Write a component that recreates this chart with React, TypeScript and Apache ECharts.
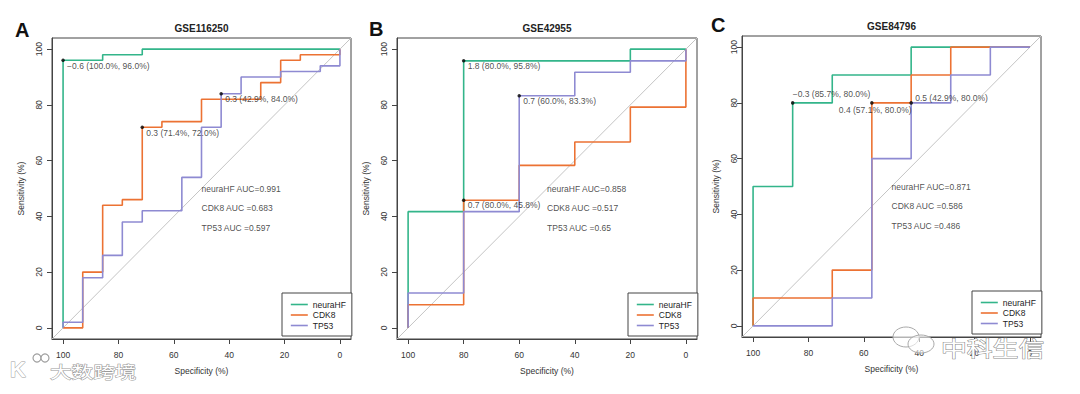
import React, { useEffect, useRef } from "react";
import * as echarts from "echarts";

const FONT = "'Liberation Sans', Arial, Helvetica, sans-serif";
const CJK = "'Noto Sans CJK SC', sans-serif";

const panelLetters = ["A", "B", "C"];
const datasetTitles = ["GSE116250", "GSE42955", "GSE84796"];
const markerNames = ["neuraHF", "CDK8", "TP53"];
const tickValues = [0, 20, 40, 60, 80, 100];
const axisMin = -4;
const axisMax = 104;

// ROC curves: vertices as [specificity %, sensitivity %]
const gse116250_neuraHF = [[100, 0], [100, 96], [85.7, 96], [85.7, 98], [71.4, 98], [71.4, 100], [0, 100]];
const gse116250_CDK8 = [[100, 0], [92.9, 0], [92.9, 20], [85.7, 20], [85.7, 44], [78.6, 44], [78.6, 46], [71.4, 46], [71.4, 72], [64.3, 72], [64.3, 74], [50, 74], [50, 82], [28.6, 82], [28.6, 88], [21.4, 88], [21.4, 96], [14.3, 96], [14.3, 98], [0, 98], [0, 100]];
const gse116250_TP53 = [[100, 0], [100, 2], [92.9, 2], [92.9, 18], [85.7, 18], [85.7, 26], [78.6, 26], [78.6, 38], [71.4, 38], [71.4, 42], [57.1, 42], [57.1, 54], [50, 54], [50, 72], [42.9, 72], [42.9, 84], [35.7, 84], [35.7, 90], [21.4, 90], [21.4, 92], [7.1, 92], [7.1, 94], [0, 94], [0, 100]];

const gse42955_neuraHF = [[100, 0], [100, 41.7], [80, 41.7], [80, 95.8], [20, 95.8], [20, 100], [0, 100]];
const gse42955_CDK8 = [[100, 0], [100, 8.3], [80, 8.3], [80, 45.8], [60, 45.8], [60, 58.3], [40, 58.3], [40, 66.7], [20, 66.7], [20, 79.2], [0, 79.2], [0, 100]];
const gse42955_TP53 = [[100, 0], [100, 12.5], [80, 12.5], [80, 41.7], [60, 41.7], [60, 83.3], [40, 83.3], [40, 91.7], [20, 91.7], [20, 95.8], [0, 95.8], [0, 100]];

const gse84796_neuraHF = [[100, 0], [100, 50], [85.7, 50], [85.7, 80], [71.4, 80], [71.4, 90], [42.9, 90], [42.9, 100], [0, 100]];
const gse84796_CDK8 = [[100, 0], [100, 10], [71.4, 10], [71.4, 20], [57.1, 20], [57.1, 80], [42.9, 80], [42.9, 90], [28.6, 90], [28.6, 100], [0, 100]];
const gse84796_TP53 = [[100, 0], [71.4, 0], [71.4, 10], [57.1, 10], [57.1, 60], [42.9, 60], [42.9, 80], [28.6, 80], [28.6, 90], [14.3, 90], [14.3, 100], [0, 100]];

// best thresholds: [specificity %, sensitivity %] and threshold value
const gse116250_best = [[100, 96], [71.4, 72], [42.9, 84]];
const gse116250_thresholds = ["\u22120.6", "0.3", "0.3"];
const gse42955_best = [[80, 95.8], [80, 45.8], [60, 83.3]];
const gse42955_thresholds = ["1.8", "0.7", "0.7"];
const gse84796_best = [[85.7, 80], [57.1, 80], [42.9, 80]];
const gse84796_thresholds = ["\u22120.3", "0.4", "0.5"];

// AUC values
const gse116250_auc = ["0.991", "0.683", "0.597"];
const gse42955_auc = ["0.858", "0.517", "0.65"];
const gse84796_auc = ["0.871", "0.586", "0.486"];
const aucPrefixes = ["neuraHF AUC=", "CDK8 AUC =", "TP53 AUC ="];
const aucTextX = 50;
const aucTextY = [50, 43, 36];

const rocByPanel = [
  [gse116250_neuraHF, gse116250_CDK8, gse116250_TP53],
  [gse42955_neuraHF, gse42955_CDK8, gse42955_TP53],
  [gse84796_neuraHF, gse84796_CDK8, gse84796_TP53],
];
const bestByPanel = [gse116250_best, gse42955_best, gse84796_best];
const thrByPanel = [gse116250_thresholds, gse42955_thresholds, gse84796_thresholds];
const aucByPanel = [gse116250_auc, gse42955_auc, gse84796_auc];

// styling / layout
const colors = ["#33B58A", "#EC7233", "#8E8AD2"];
const grids = [
  { left: 52, top: 38, width: 299, height: 301 },
  { left: 397, top: 38, width: 300, height: 301 },
  { left: 742, top: 36, width: 299, height: 301 },
];
const yLabelMargin = [9, 9, 4];
const yNameGap = [27, 27, 22];
const legendPos = [
  { left: 282, top: 293 },
  { left: 628, top: 293 },
  { left: 972, top: 291 },
];
const bestLabelOffsets = [
  [[0, 5.5], [0, 5.5], [0, 5.5]],
  [[0, 5.5], [0, 5], [0, 5]],
  [[-4, -9], [-37, 6.7], [0, -5]],
];
const titlePos = [[201.5, 28], [547, 28.3], [891.5, 26]];
const letterPos = [[15, 30], [369, 28.5], [711, 25]];

function buildOption() {
  const series: any[] = [];
  grids.forEach((_, p) => {
    series.push({
      type: "line",
      name: "diag" + p,
      xAxisIndex: p,
      yAxisIndex: p,
      data: [[axisMax, axisMin], [axisMin, axisMax]],
      symbol: "none",
      silent: true,
      lineStyle: { color: "#c4c4c4", width: 1 },
      z: 1,
    });
    rocByPanel[p].forEach((roc, i) => {
      series.push({
        type: "line",
        name: markerNames[i],
        xAxisIndex: p,
        yAxisIndex: p,
        data: roc,
        symbol: "none",
        silent: true,
        lineStyle: { color: colors[i], width: 1.6 },
        itemStyle: { color: colors[i] },
        z: 2 + i,
      });
    });
    const thr = thrByPanel[p];
    series.push({
      type: "scatter",
      name: "best" + p,
      xAxisIndex: p,
      yAxisIndex: p,
      silent: true,
      symbolSize: 3.5,
      itemStyle: { color: "#000" },
      data: bestByPanel[p].map((pt, i) => ({ value: pt, label: { offset: bestLabelOffsets[p][i] } })),
      label: {
        show: true,
        position: "right",
        distance: 2.25,
        fontSize: 8.5,
        fontFamily: FONT,
        color: "#222",
        formatter: (params: any) =>
          `${thr[params.dataIndex]} (${params.value[0].toFixed(1)}%, ${params.value[1].toFixed(1)}%)`,
      },
      z: 6,
    });
    const auc = aucByPanel[p];
    series.push({
      type: "scatter",
      name: "auc" + p,
      xAxisIndex: p,
      yAxisIndex: p,
      silent: true,
      symbolSize: 0.1,
      itemStyle: { color: "rgba(0,0,0,0)" },
      data: aucTextY.map((y) => [aucTextX, y]),
      label: {
        show: true,
        position: "right",
        distance: 0,
        fontSize: 8.5,
        fontFamily: FONT,
        color: "#222",
        formatter: (params: any) => aucPrefixes[params.dataIndex] + auc[params.dataIndex],
      },
      z: 6,
    });
  });

  const graphic: any[] = [];
  grids.forEach((_, p) => {
    graphic.push({
      type: "text",
      x: titlePos[p][0],
      y: titlePos[p][1],
      silent: true,
      style: {
        text: datasetTitles[p],
        fontSize: 10,
        fontWeight: "bold",
        fontFamily: FONT,
        fill: "#222",
        align: "center",
        verticalAlign: "middle",
      },
    });
    graphic.push({
      type: "text",
      x: letterPos[p][0],
      y: letterPos[p][1],
      silent: true,
      style: {
        text: panelLetters[p],
        fontSize: 20,
        fontWeight: "bold",
        fontFamily: FONT,
        fill: "#111",
        align: "left",
        verticalAlign: "middle",
      },
    });
  });
  // watermarks
  graphic.push(
    {
      type: "text", x: 10, y: 369, z: 100, silent: true,
      style: { text: "K", fontSize: 22, fontWeight: "bold", fontFamily: FONT, fill: "#fff", stroke: "#a0a0a0", lineWidth: 1, align: "left", verticalAlign: "middle" },
    },
    { type: "circle", z: 100, silent: true, shape: { cx: 37, cy: 358, r: 4 }, style: { fill: "#fff", stroke: "#a0a0a0", lineWidth: 1.2 } },
    { type: "circle", z: 100, silent: true, shape: { cx: 45, cy: 358, r: 4 }, style: { fill: "#fff", stroke: "#a0a0a0", lineWidth: 1.2 } },
    {
      type: "text", x: 50, y: 371, z: 100, scaleX: 1.35, silent: true,
      style: { text: "大数跨境", fontSize: 16, fontFamily: CJK, fill: "#fff", stroke: "#999", lineWidth: 1, align: "left", verticalAlign: "middle" },
    },
    { type: "ellipse", z: 100, silent: true, shape: { cx: 906, cy: 337, rx: 13, ry: 10 }, style: { fill: "rgba(255,255,255,0.6)", stroke: "#aaa", lineWidth: 1 } },
    { type: "ellipse", z: 100, silent: true, shape: { cx: 921, cy: 344, rx: 13, ry: 9 }, style: { fill: "rgba(255,255,255,0.6)", stroke: "#aaa", lineWidth: 1 } },
    {
      type: "text", x: 941, y: 347, z: 100, scaleX: 1.23, silent: true,
      style: { text: "中科生信", fontSize: 21, fontFamily: CJK, fill: "#fff", stroke: "#8a8a8a", lineWidth: 1, align: "left", verticalAlign: "middle" },
    }
  );

  return {
    animation: false,
    backgroundColor: "#fff",
    textStyle: { fontFamily: FONT },
    grid: grids.map((g) => ({ ...g, show: true, borderColor: "#444", borderWidth: 1, backgroundColor: "transparent" })),
    xAxis: grids.map((_, p) => ({
      type: "value",
      gridIndex: p,
      min: axisMin,
      max: axisMax,
      inverse: true,
      name: "Specificity (%)",
      nameLocation: "middle",
      nameGap: 27,
      nameTextStyle: { fontSize: 8.5, color: "#333", fontFamily: FONT },
      axisLine: { show: true, onZero: false, lineStyle: { color: "#444" } },
      axisTick: { show: true, length: 5, customValues: tickValues, lineStyle: { color: "#444" } },
      axisLabel: { customValues: tickValues, fontSize: 8.5, color: "#333", margin: 11, fontFamily: FONT },
      splitLine: { show: false },
    })),
    yAxis: grids.map((_, p) => ({
      type: "value",
      gridIndex: p,
      min: axisMin,
      max: axisMax,
      name: "Sensitivity (%)",
      nameLocation: "middle",
      nameGap: yNameGap[p],
      nameTextStyle: { fontSize: 8.5, color: "#333", fontFamily: FONT },
      axisLine: { show: true, onZero: false, lineStyle: { color: "#444" } },
      axisTick: { show: true, length: 5, customValues: tickValues, lineStyle: { color: "#444" } },
      axisLabel: { customValues: tickValues, fontSize: 8.5, color: "#333", margin: yLabelMargin[p], rotate: 90, fontFamily: FONT },
      splitLine: { show: false },
    })),
    legend: grids.map((_, p) => ({
      data: markerNames,
      orient: "vertical",
      left: legendPos[p].left,
      top: legendPos[p].top,
      padding: [7, 6, 6, 8],
      itemGap: 1.5,
      itemWidth: 17,
      itemHeight: 10,
      borderColor: "#444",
      borderWidth: 1,
      borderRadius: 0,
      backgroundColor: "#fff",
      selectedMode: false,
      itemStyle: { opacity: 0 },
      lineStyle: { width: 1.6 },
      textStyle: { fontSize: 8.5, color: "#222", fontFamily: FONT },
    })),
    series,
    graphic,
  };
}

export default function App() {
  const ref = useRef<HTMLDivElement>(null);
  useEffect(() => {
    if (!ref.current) return;
    const chart = echarts.init(ref.current, null, { renderer: "svg", width: 1080, height: 394 });
    chart.setOption(buildOption() as any);
    return () => chart.dispose();
  }, []);
  return (
    <div
      ref={ref}
      style={{ position: "fixed", left: 0, top: 0, width: 1080, height: 394, background: "#fff" }}
    />
  );
}
